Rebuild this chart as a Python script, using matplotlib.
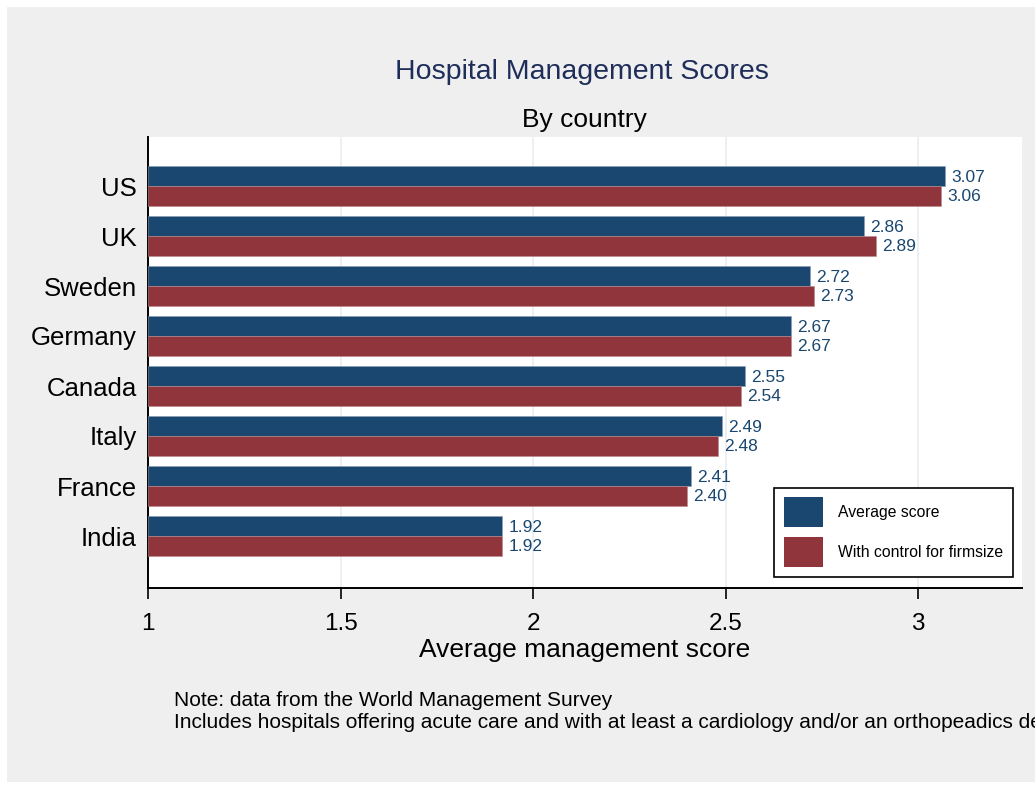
import matplotlib
matplotlib.use("Agg")
import matplotlib.pyplot as plt
from matplotlib.patches import Rectangle, Patch
import numpy as np

countries = ["US", "UK", "Sweden", "Germany", "Canada", "Italy", "France", "India"]
avg_score = [3.07, 2.86, 2.72, 2.67, 2.55, 2.49, 2.41, 1.92]
ctrl_score = [3.06, 2.89, 2.73, 2.67, 2.54, 2.48, 2.40, 1.92]
x_ticks = [1, 1.5, 2, 2.5, 3]
x_tick_labels = ["1", "1.5", "2", "2.5", "3"]

BLUE = "#1a476f"
RED = "#90353b"
BG = "#efefef"
W, H = 1035, 787

plt.rcParams["font.family"] = ["Liberation Sans", "DejaVu Sans"]

fig = plt.figure(figsize=(W / 100, H / 100), dpi=100, facecolor="white")
# gray graph region (Stata style), white margin top/left/bottom
fig.patches.append(Rectangle((7 / W, 1 - 782 / H), 1 - 7 / W, (782 - 7) / H,
                             transform=fig.transFigure, facecolor=BG,
                             edgecolor="none", zorder=-10))

ax = fig.add_axes([148 / W, 1 - 588 / H, (1022 - 148) / W, (588 - 137) / H])
ax.set_facecolor("white")

y = np.arange(len(countries))
bh = 0.4
ax.barh(y - bh / 2, np.array(avg_score) - 1, left=1, height=bh, color=BLUE,
        edgecolor="#8a9db5", linewidth=0.4, zorder=3)
ax.barh(y + bh / 2, np.array(ctrl_score) - 1, left=1, height=bh, color=RED,
        edgecolor="#b88a8d", linewidth=0.4, zorder=3)

for i in range(len(countries)):
    ax.text(avg_score[i] + 0.016, y[i] - bh / 2 + 0.03, f"{avg_score[i]:.2f}", color=BLUE,
            fontsize=12.5, va="center", ha="left", zorder=4)
    ax.text(ctrl_score[i] + 0.016, y[i] + bh / 2 + 0.01, f"{ctrl_score[i]:.2f}", color=BLUE,
            fontsize=12.5, va="center", ha="left", zorder=4)

ax.set_xlim(1, 3.27)
ax.set_ylim(len(countries) - 1 + 1.04, -0.98)

ax.set_xticks(x_ticks)
ax.set_xticklabels(x_tick_labels, fontsize=17.5)
ax.set_yticks(y)
ax.set_yticklabels(countries, fontsize=18.5)
ax.tick_params(axis="x", direction="out", length=8, width=1.2, pad=10, color="black")
ax.tick_params(axis="y", length=0, pad=8)

for xv in x_ticks[1:]:
    ax.axvline(xv, color="#e6eef2", linewidth=1.2, zorder=1)

for s in ["top", "right"]:
    ax.spines[s].set_visible(False)
for s in ["left", "bottom"]:
    ax.spines[s].set_color("black")
    ax.spines[s].set_linewidth(1.4)

ax.set_xlabel("Average management score", fontsize=19, labelpad=2)

fig.text(582 / W, 1 - 72 / H, "Hospital Management Scores", color="#1e2d5a",
         fontsize=20.5, ha="center", va="center")
fig.text(584 / W, 1 - 120 / H, "By country", color="black",
         fontsize=19, ha="center", va="center")

# the second note line runs off the right edge, as in the original
fig.text(174 / W, 1 - 700 / H, "Note: data from the World Management Survey",
         fontsize=15, ha="left", va="center")
fig.text(174 / W, 1 - 722 / H,
         "Includes hospitals offering acute care and with at least a cardiology "
         "and/or an orthopeadics department",
         fontsize=15, ha="left", va="center")

handles = [Patch(facecolor=BLUE, edgecolor="none"), Patch(facecolor=RED, edgecolor="none")]
leg = ax.legend(handles, ["Average score", "With control for firmsize"],
                loc="upper right", bbox_to_anchor=(1013 / W, 1 - 488 / H),
                bbox_transform=fig.transFigure, fontsize=11.3,
                handlelength=2.5, handleheight=2.56, labelspacing=0.64,
                handletextpad=1.0, borderpad=0.6, borderaxespad=0,
                frameon=True, fancybox=False, framealpha=1)
leg.get_frame().set_edgecolor("black")
leg.get_frame().set_linewidth(1.2)
leg.set_zorder(5)

fig.savefig("out.png", dpi=100, facecolor=fig.get_facecolor())
